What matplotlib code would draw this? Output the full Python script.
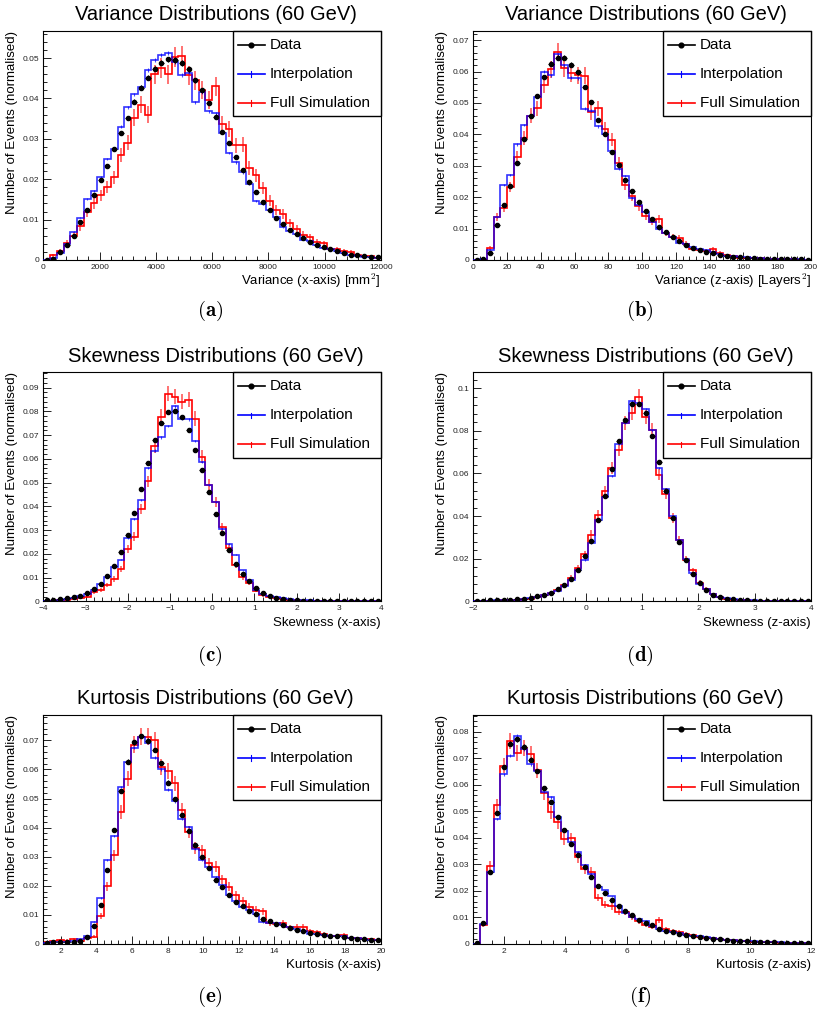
import numpy as np
import matplotlib
matplotlib.use("Agg")
import matplotlib.pyplot as plt
from matplotlib.lines import Line2D
from matplotlib.patches import Rectangle
from matplotlib.ticker import MultipleLocator, AutoMinorLocator, FuncFormatter

plt.rcParams['font.family'] = ['Liberation Sans', 'DejaVu Sans']
plt.rcParams['mathtext.fontset'] = 'cm'

# ---- data (normalised bin contents, 50 bins per panel) ----
var_x_data = [0.0001, 0.0003, 0.0021, 0.0036, 0.0060, 0.0094, 0.0124, 0.0161, 0.0197, 0.0233,
              0.0274, 0.0315, 0.0352, 0.0392, 0.0427, 0.0451, 0.0474, 0.0489, 0.0497, 0.0495,
              0.0488, 0.0472, 0.0445, 0.0420, 0.0389, 0.0355, 0.0317, 0.0290, 0.0255, 0.0222,
              0.0193, 0.0168, 0.0143, 0.0124, 0.0104, 0.0089, 0.0075, 0.0065, 0.0054, 0.0044,
              0.0037, 0.0031, 0.0026, 0.0022, 0.0017, 0.0013, 0.0012, 0.0009, 0.0008, 0.0007]
var_x_interp = [0.0, 0.0005, 0.0017, 0.0040, 0.0070, 0.0105, 0.0150, 0.0170, 0.0205, 0.0250,
                0.0274, 0.0330, 0.0378, 0.0410, 0.0428, 0.0470, 0.0495, 0.0508, 0.0512, 0.0490,
                0.0458, 0.0464, 0.0390, 0.0415, 0.0368, 0.0363, 0.0315, 0.0265, 0.0242, 0.0217,
                0.0188, 0.0147, 0.0138, 0.0125, 0.0106, 0.0081, 0.0073, 0.0065, 0.0050, 0.0046,
                0.0036, 0.0030, 0.0026, 0.0022, 0.0017, 0.0012, 0.0011, 0.0008, 0.0007, 0.0005]
var_x_full = [0.0, 0.0012, 0.0022, 0.0043, 0.0060, 0.0083, 0.0118, 0.0140, 0.0160, 0.0180,
              0.0205, 0.0260, 0.0290, 0.0352, 0.0385, 0.0360, 0.0460, 0.0475, 0.0460, 0.0502,
              0.0505, 0.0458, 0.0445, 0.0420, 0.0396, 0.0430, 0.0337, 0.0325, 0.0284, 0.0285,
              0.0228, 0.0210, 0.0178, 0.0147, 0.0124, 0.0114, 0.0091, 0.0077, 0.0063, 0.0056,
              0.0044, 0.0041, 0.0027, 0.0026, 0.0022, 0.0019, 0.0012, 0.0009, 0.0009, 0.0005]

var_z_data = [0.0, 0.0002, 0.0022, 0.0110, 0.0176, 0.0236, 0.0310, 0.0386, 0.0457, 0.0522,
              0.0583, 0.0625, 0.0644, 0.0644, 0.0622, 0.0597, 0.0550, 0.0503, 0.0447, 0.0401,
              0.0345, 0.0301, 0.0256, 0.0220, 0.0186, 0.0157, 0.0129, 0.0104, 0.0089, 0.0072,
              0.0060, 0.0048, 0.0039, 0.0032, 0.0027, 0.0022, 0.0017, 0.0014, 0.0011, 0.0009,
              0.0006, 0.0005, 0.0004, 0.0004, 0.0003, 0.0003, 0.0002, 0.0002, 0.0002, 0.0001]
var_z_interp = [0.0, 0.0002, 0.0033, 0.0136, 0.0238, 0.0270, 0.0368, 0.0430, 0.0460, 0.0520,
                0.0600, 0.0588, 0.0655, 0.0620, 0.0580, 0.0578, 0.0482, 0.0475, 0.0425, 0.0400,
                0.0346, 0.0290, 0.0268, 0.0198, 0.0175, 0.0153, 0.0122, 0.0098, 0.0087, 0.0073,
                0.0055, 0.0052, 0.0042, 0.0036, 0.0032, 0.0025, 0.0018, 0.0014, 0.0012, 0.0010,
                0.0009, 0.0006, 0.0005, 0.0004, 0.0004, 0.0003, 0.0003, 0.0002, 0.0002, 0.0001]
var_z_full = [0.0, 0.0, 0.0038, 0.0138, 0.0167, 0.0233, 0.0328, 0.0388, 0.0460, 0.0483,
              0.0558, 0.0607, 0.0663, 0.0610, 0.0595, 0.0588, 0.0587, 0.0470, 0.0483, 0.0417,
              0.0383, 0.0310, 0.0240, 0.0205, 0.0172, 0.0140, 0.0122, 0.0130, 0.0085, 0.0072,
              0.0070, 0.0052, 0.0035, 0.0033, 0.0028, 0.0035, 0.0022, 0.0015, 0.0012, 0.0006,
              0.0006, 0.0005, 0.0005, 0.0004, 0.0003, 0.0003, 0.0002, 0.0002, 0.0001, 0.0001]

skew_x_data = [0.0004, 0.0006, 0.0008, 0.0012, 0.0018, 0.0024, 0.0035, 0.0052, 0.0073, 0.0107,
               0.0149, 0.0206, 0.0280, 0.0373, 0.0473, 0.0583, 0.0680, 0.0752, 0.0798, 0.0800,
               0.0777, 0.0720, 0.0638, 0.0555, 0.0461, 0.0367, 0.0287, 0.0216, 0.0158, 0.0116,
               0.0084, 0.0056, 0.0035, 0.0021, 0.0014, 0.0010, 0.0006, 0.0004, 0.0003, 0.0003,
               0.0002, 0.0002, 0.0002, 0.0001, 0.0001, 0.0001, 0.0001, 0.0001, 0.0001, 0.0001]
skew_x_interp = [0.0002, 0.0003, 0.0005, 0.0008, 0.0013, 0.0022, 0.0030, 0.0046, 0.0072, 0.0102,
                 0.0143, 0.0175, 0.0267, 0.0348, 0.0428, 0.0561, 0.0635, 0.0691, 0.0739, 0.0822,
                 0.0770, 0.0767, 0.0676, 0.0586, 0.0490, 0.0417, 0.0306, 0.0241, 0.0196, 0.0130,
                 0.0088, 0.0049, 0.0032, 0.0021, 0.0017, 0.0012, 0.0009, 0.0006, 0.0005, 0.0004,
                 0.0003, 0.0003, 0.0002, 0.0002, 0.0002, 0.0001, 0.0001, 0.0001, 0.0001, 0.0001]
skew_x_full = [0.0002, 0.0003, 0.0004, 0.0006, 0.0009, 0.0012, 0.0018, 0.0038, 0.0048, 0.0068,
               0.0094, 0.0136, 0.0222, 0.0272, 0.0388, 0.0505, 0.0655, 0.0778, 0.0875, 0.0862,
               0.0841, 0.0849, 0.0770, 0.0610, 0.0490, 0.0418, 0.0312, 0.0223, 0.0152, 0.0101,
               0.0078, 0.0045, 0.0025, 0.0020, 0.0012, 0.0008, 0.0006, 0.0004, 0.0003, 0.0003,
               0.0002, 0.0002, 0.0002, 0.0001, 0.0001, 0.0001, 0.0001, 0.0001, 0.0001, 0.0001]

skew_z_data = [0.0002, 0.0003, 0.0004, 0.0005, 0.0006, 0.0006, 0.0009, 0.0011, 0.0017, 0.0023,
               0.0030, 0.0038, 0.0056, 0.0075, 0.0106, 0.0148, 0.0211, 0.0285, 0.0381, 0.0492,
               0.0621, 0.0752, 0.0853, 0.0925, 0.0927, 0.0885, 0.0777, 0.0652, 0.0516, 0.0391,
               0.0278, 0.0195, 0.0130, 0.0084, 0.0055, 0.0031, 0.0020, 0.0013, 0.0009, 0.0006,
               0.0004, 0.0003, 0.0002, 0.0002, 0.0001, 0.0001, 0.0001, 0.0001, 0.0001, 0.0001]
skew_z_interp = [0.0001, 0.0002, 0.0003, 0.0004, 0.0005, 0.0006, 0.0008, 0.0010, 0.0016, 0.0022,
                 0.0028, 0.0038, 0.0048, 0.0072, 0.0098, 0.0145, 0.0194, 0.0274, 0.0383, 0.0490,
                 0.0590, 0.0738, 0.0839, 0.0939, 0.0933, 0.0903, 0.0802, 0.0625, 0.0528, 0.0402,
                 0.0287, 0.0198, 0.0134, 0.0083, 0.0058, 0.0033, 0.0022, 0.0016, 0.0010, 0.0007,
                 0.0005, 0.0004, 0.0003, 0.0002, 0.0002, 0.0001, 0.0001, 0.0001, 0.0001, 0.0001]
skew_z_full = [0.0001, 0.0002, 0.0002, 0.0003, 0.0004, 0.0005, 0.0007, 0.0010, 0.0012, 0.0018,
               0.0028, 0.0038, 0.0053, 0.0075, 0.0110, 0.0155, 0.0220, 0.0313, 0.0406, 0.0516,
               0.0625, 0.0711, 0.0836, 0.0886, 0.0961, 0.0867, 0.0805, 0.0594, 0.0505, 0.0391,
               0.0286, 0.0195, 0.0145, 0.0088, 0.0060, 0.0033, 0.0018, 0.0012, 0.0008, 0.0005,
               0.0004, 0.0003, 0.0002, 0.0002, 0.0001, 0.0001, 0.0001, 0.0001, 0.0001, 0.0001]

kurt_x_data = [0.0005, 0.0007, 0.0008, 0.0006, 0.0008, 0.0011, 0.0025, 0.0063, 0.0135, 0.0255,
               0.0392, 0.0526, 0.0627, 0.0693, 0.0715, 0.0699, 0.0667, 0.0621, 0.0555, 0.0500,
               0.0445, 0.0387, 0.0340, 0.0299, 0.0261, 0.0221, 0.0197, 0.0169, 0.0146, 0.0129,
               0.0112, 0.0103, 0.0086, 0.0080, 0.0070, 0.0064, 0.0055, 0.0049, 0.0043, 0.0038,
               0.0035, 0.0032, 0.0029, 0.0026, 0.0024, 0.0021, 0.0018, 0.0017, 0.0015, 0.0015]
kurt_x_interp = [0.0005, 0.0006, 0.0008, 0.0008, 0.0009, 0.0016, 0.0028, 0.0077, 0.0158, 0.0290,
                 0.0370, 0.0540, 0.0627, 0.0675, 0.0712, 0.0692, 0.0640, 0.0600, 0.0530, 0.0490,
                 0.0430, 0.0402, 0.0327, 0.0287, 0.0266, 0.0229, 0.0204, 0.0168, 0.0148, 0.0128,
                 0.0117, 0.0103, 0.0075, 0.0073, 0.0072, 0.0065, 0.0057, 0.0050, 0.0043, 0.0035,
                 0.0035, 0.0031, 0.0029, 0.0027, 0.0026, 0.0020, 0.0019, 0.0017, 0.0015, 0.0013]
kurt_x_full = [0.0008, 0.0010, 0.0013, 0.0012, 0.0016, 0.0012, 0.0022, 0.0025, 0.0095, 0.0198,
               0.0305, 0.0453, 0.0568, 0.0685, 0.0712, 0.0712, 0.0700, 0.0608, 0.0595, 0.0553,
               0.0460, 0.0385, 0.0330, 0.0322, 0.0277, 0.0266, 0.0222, 0.0197, 0.0167, 0.0147,
               0.0127, 0.0118, 0.0113, 0.0072, 0.0068, 0.0072, 0.0058, 0.0060, 0.0060, 0.0043,
               0.0040, 0.0035, 0.0028, 0.0027, 0.0032, 0.0022, 0.0020, 0.0018, 0.0017, 0.0014]

kurt_z_data = [0.0005, 0.0081, 0.0270, 0.0494, 0.0668, 0.0755, 0.0771, 0.0744, 0.0695, 0.0652,
               0.0587, 0.0535, 0.0480, 0.0429, 0.0377, 0.0334, 0.0291, 0.0252, 0.0217, 0.0193,
               0.0164, 0.0144, 0.0123, 0.0108, 0.0092, 0.0079, 0.0070, 0.0058, 0.0050, 0.0045,
               0.0039, 0.0035, 0.0030, 0.0026, 0.0024, 0.0019, 0.0018, 0.0015, 0.0013, 0.0011,
               0.0010, 0.0009, 0.0008, 0.0007, 0.0006, 0.0005, 0.0005, 0.0004, 0.0004, 0.0003]
kurt_z_interp = [0.0, 0.0075, 0.0270, 0.0470, 0.0640, 0.0710, 0.0785, 0.0733, 0.0677, 0.0652,
                 0.0573, 0.0553, 0.0480, 0.0427, 0.0385, 0.0345, 0.0297, 0.0265, 0.0215, 0.0202,
                 0.0180, 0.0142, 0.0117, 0.0100, 0.0093, 0.0085, 0.0069, 0.0057, 0.0050, 0.0045,
                 0.0042, 0.0035, 0.0032, 0.0032, 0.0025, 0.0021, 0.0018, 0.0016, 0.0014, 0.0013,
                 0.0011, 0.0010, 0.0009, 0.0008, 0.0007, 0.0006, 0.0005, 0.0005, 0.0004, 0.0003]
kurt_z_full = [0.0, 0.0072, 0.0295, 0.0523, 0.0672, 0.0765, 0.0720, 0.0738, 0.0715, 0.0655,
               0.0570, 0.0497, 0.0458, 0.0395, 0.0398, 0.0327, 0.0282, 0.0273, 0.0175, 0.0148,
               0.0143, 0.0122, 0.0121, 0.0103, 0.0087, 0.0073, 0.0065, 0.0090, 0.0055, 0.0048,
               0.0046, 0.0037, 0.0033, 0.0028, 0.0024, 0.0021, 0.0018, 0.0015, 0.0015, 0.0011,
               0.0010, 0.0008, 0.0008, 0.0007, 0.0006, 0.0005, 0.0005, 0.0004, 0.0004, 0.0003]

# statistical (sqrt-N like) uncertainty scales
full_err_scale = 0.011
interp_err_scale = 0.002
data_err_scale = 0.003

panels = [
    dict(data=var_x_data, interp=var_x_interp, full=var_x_full, lo=0, hi=12000, ymax=0.0567,
         major=2000, title="Variance Distributions (60 GeV)",
         xlabel=r"Variance (x-axis) [mm$^{2}$]", tag="a"),
    dict(data=var_z_data, interp=var_z_interp, full=var_z_full, lo=0, hi=200, ymax=0.0729,
         major=20, title="Variance Distributions (60 GeV)",
         xlabel=r"Variance (z-axis) [Layers$^{2}$]", tag="b"),
    dict(data=skew_x_data, interp=skew_x_interp, full=skew_x_full, lo=-4, hi=4, ymax=0.0965,
         major=1, title="Skewness Distributions (60 GeV)", xlabel="Skewness (x-axis)", tag="c"),
    dict(data=skew_z_data, interp=skew_z_interp, full=skew_z_full, lo=-2, hi=4, ymax=0.1075,
         major=1, title="Skewness Distributions (60 GeV)", xlabel="Skewness (z-axis)", tag="d"),
    dict(data=kurt_x_data, interp=kurt_x_interp, full=kurt_x_full, lo=1, hi=20, ymax=0.0787,
         major=2, title="Kurtosis Distributions (60 GeV)", xlabel="Kurtosis (x-axis)", tag="e"),
    dict(data=kurt_z_data, interp=kurt_z_interp, full=kurt_z_full, lo=1, hi=12, ymax=0.0863,
         major=2, title="Kurtosis Distributions (60 GeV)", xlabel="Kurtosis (z-axis)", tag="f"),
]

W, H = 825, 1014
fig = plt.figure(figsize=(W / 100, H / 100), dpi=100)

col_left = [43.3, 473.3]
row_top = [31.0, 372.3, 715.0]
ax_w, ax_h = 337.7, 229.0
cap_x = [210, 640]
cap_y = [311, 656, 997]

BLUE = '#0000ff'
RED = '#ff0000'


def ytick_fmt(v, pos):
    return '0' if abs(v) < 1e-12 else '%g' % round(v, 4)


def draw_panel(ax, p):
    edges = np.linspace(p['lo'], p['hi'], len(p['data']) + 1)
    centers = 0.5 * (edges[:-1] + edges[1:])
    bw = edges[1] - edges[0]
    full = np.array(p['full'])
    interp = np.array(p['interp'])
    data = np.array(p['data'])

    ax.stairs(full, edges, color=RED, lw=1.2, baseline=None, zorder=2)
    ax.errorbar(centers, full, yerr=full_err_scale * np.sqrt(full), fmt='none',
                ecolor=RED, elinewidth=1.1, alpha=0.7, zorder=2)
    ax.stairs(interp, edges, color=BLUE, lw=1.2, baseline=None, alpha=0.8, zorder=3)
    ax.errorbar(centers, interp, yerr=interp_err_scale * np.sqrt(interp), fmt='none',
                ecolor=BLUE, elinewidth=0.8, alpha=0.7, zorder=3)
    ax.errorbar(centers, data, xerr=0.4 * bw,
                yerr=data_err_scale * np.sqrt(data), fmt='o', color='black',
                ms=3.0, elinewidth=0.7, capsize=0, zorder=4)

    ax.set_xlim(p['lo'], p['hi'])
    ax.set_ylim(0, p['ymax'])
    ax.xaxis.set_major_locator(MultipleLocator(p['major']))
    ax.xaxis.set_minor_locator(AutoMinorLocator(5))
    ax.yaxis.set_major_locator(MultipleLocator(0.01 if p['ymax'] < 0.1 else 0.02))
    ax.yaxis.set_minor_locator(AutoMinorLocator(5))
    ax.yaxis.set_major_formatter(FuncFormatter(ytick_fmt))
    ax.tick_params(which='both', direction='in', top=False, right=False,
                   labelsize=6, width=0.7, colors='#222222')
    ax.tick_params(which='major', length=6, pad=3)
    ax.tick_params(which='minor', length=3)
    for s in ax.spines.values():
        s.set_linewidth(0.8)

    ax.text(0.51, 1.07, p['title'], transform=ax.transAxes, ha='center', va='center',
            fontsize=14.5)
    ax.text(-0.093, 1.0, "Number of Events (normalised)", transform=ax.transAxes,
            rotation=90, ha='center', va='top', fontsize=9.5)
    ax.text(1.0, -0.093, p['xlabel'], transform=ax.transAxes, ha='right', va='center',
            fontsize=9.5)

    # legend box (upper right)
    lx0, ly0 = 0.562, 0.627
    ax.add_patch(Rectangle((lx0, ly0), 1 - lx0, 1 - ly0, transform=ax.transAxes,
                           facecolor='white', edgecolor='black', lw=1.0, zorder=10,
                           clip_on=False))
    rows = [0.939, 0.812, 0.685]
    labels = ["Data", "Interpolation", "Full Simulation"]
    colors = ['black', BLUE, RED]
    hx0, hx1, tx = 0.577, 0.656, 0.671
    for yy, lab, c in zip(rows, labels, colors):
        ax.add_line(Line2D([hx0, hx1], [yy, yy], transform=ax.transAxes, color=c,
                           lw=1.2, zorder=11))
        mid = 0.5 * (hx0 + hx1)
        if lab == "Data":
            ax.add_line(Line2D([mid], [yy], transform=ax.transAxes, marker='o', ms=3.4,
                               color='black', zorder=12))
        else:
            ax.add_line(Line2D([mid, mid], [yy - 0.012, yy + 0.012], transform=ax.transAxes,
                               color=c, lw=0.8, zorder=12))
        ax.text(tx, yy, lab, transform=ax.transAxes, ha='left', va='center',
                fontsize=11, zorder=12)


for i, p in enumerate(panels):
    r, c = divmod(i, 2)
    left = col_left[c] / W
    bottom = 1 - (row_top[r] + ax_h) / H
    ax = fig.add_axes([left, bottom, ax_w / W, ax_h / H])
    draw_panel(ax, p)
    fig.text(cap_x[c] / W, 1 - cap_y[r] / H, r'$\mathbf{(%s)}$' % p['tag'],
             ha='center', va='center', fontsize=15)

fig.savefig("out.png", dpi=100)
